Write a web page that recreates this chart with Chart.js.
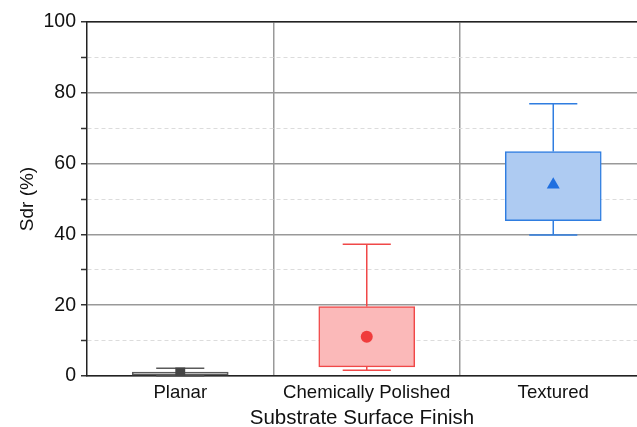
<!DOCTYPE html>
<html>
<head>
<meta charset="utf-8">
<script src="https://cdn.jsdelivr.net/npm/chart.js@4/dist/chart.umd.min.js"></script>
<style>
  html, body { margin: 0; padding: 0; background: #fff; }
  #wrap { width: 637px; height: 427px; }
</style>
</head>
<body>
<div id="wrap"><canvas id="c"></canvas></div>
<script>
// box plot values (Sdr, %)
const categories = ["Planar", "Chemically Polished", "Textured"];
const q1 = [0, 2.6, 43.9];
const q3 = [1.1, 19.6, 63.4];
const whiskerLow = [0, 1.6, 39.8];
const whiskerHigh = [2.2, 37.2, 76.9];
const means = [1.0, 11.1, 54.0];

const lineColors = ["#5a5a5a", "#f04848", "#2f7de0"];
const fillColors = ["#bdbdbd", "#fbb9b9", "#aecbf2"];
const markColors = ["#444444", "#f03c3c", "#1f6fe0"];
const markStyles = ["rect", "circle", "triangle"];
const markSizes = [7, 6, 7.5];

const FONT = "'Liberation Sans', Arial, sans-serif";

// whiskers + caps, drawn through the chart scales
const whiskers = {
  id: "whiskers",
  beforeDatasetsDraw(chart) {
    const { ctx, scales: { x, y } } = chart;
    ctx.save();
    ctx.lineWidth = 1.5;
    categories.forEach((c, i) => {
      const cx = x.getPixelForValue(i + 1);
      const half = (x.getPixelForValue(i + 1.129) - cx);
      ctx.strokeStyle = lineColors[i];
      ctx.beginPath();
      ctx.moveTo(cx, y.getPixelForValue(q3[i]));
      ctx.lineTo(cx, y.getPixelForValue(whiskerHigh[i]));
      ctx.moveTo(cx, y.getPixelForValue(q1[i]));
      ctx.lineTo(cx, y.getPixelForValue(whiskerLow[i]));
      ctx.moveTo(cx - half, y.getPixelForValue(whiskerHigh[i]));
      ctx.lineTo(cx + half, y.getPixelForValue(whiskerHigh[i]));
      ctx.moveTo(cx - half, y.getPixelForValue(whiskerLow[i]));
      ctx.lineTo(cx + half, y.getPixelForValue(whiskerLow[i]));
      ctx.stroke();
    });
    ctx.restore();
  },
};

new Chart(document.getElementById("c"), {
  type: "bar",
  data: {
    datasets: [
      {
        type: "scatter",
        label: "Mean",
        data: means.map((m, i) => ({ x: i + 1, y: m })),
        pointStyle: markStyles,
        pointRadius: markSizes,
        pointBackgroundColor: markColors,
        pointBorderColor: markColors,
        pointBorderWidth: 0,
      },
      {
        label: "Box",
        data: categories.map((c, i) => ({ x: i + 1, y: [q1[i], q3[i]] })),
        backgroundColor: fillColors,
        borderColor: lineColors,
        borderWidth: 1.5,
        borderSkipped: false,
        barThickness: 96,
      },
    ],
  },
  options: {
    responsive: true,
    maintainAspectRatio: false,
    animation: false,
    layout: { autoPadding: false, padding: { left: 0, right: 0, top: 22, bottom: 0 } },
    plugins: { legend: { display: false }, tooltip: { enabled: false } },
    scales: {
      x: {
        type: "linear",
        offset: false,
        min: 0.5,
        max: 3.449,
        afterBuildTicks: (s) => { s.ticks = categories.map((c, i) => ({ value: i + 1 })); },
        afterFit: (s) => { s.height = 51; },
        ticks: {
          callback: (v) => categories[v - 1] ?? "",
          color: "#111",
          font: { family: FONT, size: 18.6 },
          padding: 6,
          maxRotation: 0,
          autoSkip: false,
        },
        grid: { drawOnChartArea: false, drawTicks: false, offset: false },
        border: { color: "#222", width: 1.5 },
        title: {
          display: true,
          text: "Substrate Surface Finish",
          color: "#111",
          font: { family: FONT, size: 20.5 },
          padding: { top: 0, bottom: -4 },
        },
      },
      xTop: {
        type: "linear",
        position: "top",
        offset: false,
        min: 0.5,
        max: 3.449,
        afterBuildTicks: (s) => { s.ticks = [{ value: 1.5 }, { value: 2.5 }]; },
        afterFit: (s) => { s.height = 0; },
        ticks: { display: false },
        grid: { color: "#999", lineWidth: 1.5, drawTicks: false, offset: false },
        border: { color: "#222", width: 1.5 },
      },
      y: {
        min: 0,
        max: 100,
        afterBuildTicks: (s) => {
          s.ticks = [0, 10, 20, 30, 40, 50, 60, 70, 80, 90, 100].map((v) => ({ value: v }));
        },
        afterFit: (s) => { s.width = 87; },
        ticks: {
          callback: (v) => (v % 20 === 0 ? String(v) : ""),
          color: "#111",
          font: { family: FONT, size: 19.5 },
          padding: 5,
        },
        grid: {
          color: (ctx) => (ctx.tick && ctx.tick.value % 20 ? "#dcdcdc" : "#999"),
          lineWidth: (ctx) => (ctx.tick && ctx.tick.value % 20 ? 1 : 1.5),
          tickColor: "#333",
          tickLength: 6,
          tickWidth: 1.5,
        },
        border: {
          color: "#222",
          width: 1.5,
          dash: (ctx) => (ctx.type === "tick" && ctx.tick.value % 20 ? [4, 3] : []),
        },
        title: {
          display: true,
          text: "Sdr (%)",
          color: "#111",
          font: { family: FONT, size: 19 },
          padding: { top: 16, bottom: 0 },
        },
      },
    },
  },
  plugins: [whiskers],
});
</script>
</body>
</html>
